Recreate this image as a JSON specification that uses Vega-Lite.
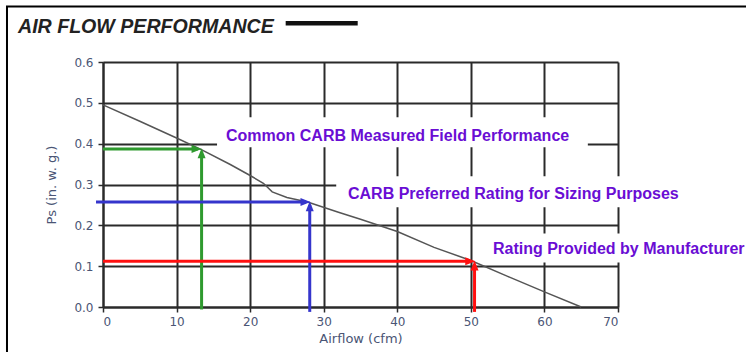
{
  "$schema": "https://vega.github.io/schema/vega-lite/v6.json",
  "width": 515,
  "height": 245,
  "autosize": "none",
  "padding": {"left": 103, "top": 62, "right": 128, "bottom": 45},
  "background": "white",
  "title": {
    "text": "AIR FLOW PERFORMANCE",
    "anchor": "start",
    "frame": "group",
    "font": "Liberation Sans",
    "fontSize": 19.6,
    "fontStyle": "italic",
    "fontWeight": "bold",
    "color": "#222222",
    "dx": -85,
    "offset": 0,
    "dy": 47,
    "baseline": "alphabetic"
  },
  "config": {
    "view": {"stroke": null},
    "axis": {
      "grid": true,
      "gridColor": "#2a2a2a",
      "gridWidth": 2,
      "gridOpacity": 1,
      "domainColor": "#2a2a2a",
      "domainWidth": 2,
      "tickColor": "#2a2a2a",
      "tickSize": 5,
      "tickWidth": 1.5,
      "labelFont": "DejaVu Sans",
      "labelFontSize": 12,
      "labelColor": "#4a5575",
      "labelPadding": 4,
      "titleFont": "DejaVu Sans",
      "titleFontSize": 13,
      "titleFontWeight": "normal",
      "titleColor": "#4a5575"
    }
  },
  "datasets": {
    "curve": [
      {"airflow": 0, "ps": 0.495},
      {"airflow": 5, "ps": 0.455},
      {"airflow": 10, "ps": 0.414},
      {"airflow": 13.3, "ps": 0.386},
      {"airflow": 17.3, "ps": 0.349},
      {"airflow": 20, "ps": 0.322},
      {"airflow": 21.8, "ps": 0.303},
      {"airflow": 23, "ps": 0.282},
      {"airflow": 25, "ps": 0.268},
      {"airflow": 27.8, "ps": 0.257},
      {"airflow": 32, "ps": 0.232},
      {"airflow": 35, "ps": 0.215},
      {"airflow": 40, "ps": 0.185},
      {"airflow": 45, "ps": 0.146},
      {"airflow": 50, "ps": 0.114},
      {"airflow": 55, "ps": 0.075},
      {"airflow": 60, "ps": 0.037},
      {"airflow": 65, "ps": 0}
    ],
    "segs": [
      {"series": "field", "x": 0, "x2": 12.9, "y": 0.387, "y2": 0.387},
      {"series": "field", "x": 13.4, "x2": 13.4, "y": -0.006, "y2": 0.38},
      {"series": "preferred", "x": -0.95, "x2": 27.6, "y": 0.257, "y2": 0.257},
      {"series": "preferred", "x": 28.1, "x2": 28.1, "y": -0.012, "y2": 0.25},
      {"series": "manufacturer", "x": 0, "x2": 50.0, "y": 0.112, "y2": 0.112},
      {"series": "manufacturer", "x": 50.5, "x2": 50.5, "y": -0.012, "y2": 0.105}
    ],
    "heads": [
      {"series": "field", "dir": "right", "x": 13.4, "y": 0.387},
      {"series": "field", "dir": "up", "x": 13.4, "y": 0.389},
      {"series": "preferred", "dir": "right", "x": 28.2, "y": 0.257},
      {"series": "preferred", "dir": "up", "x": 28.1, "y": 0.259},
      {"series": "manufacturer", "dir": "right", "x": 50.6, "y": 0.112},
      {"series": "manufacturer", "dir": "up", "x": 50.5, "y": 0.114}
    ],
    "boxes": [
      {"x": 15.5, "x2": 65.9, "y": 0.391, "y2": 0.4645},
      {"x": 31.7, "x2": 100, "y": 0.244, "y2": 0.32},
      {"x": 51.7, "x2": 100, "y": 0.109, "y2": 0.18}
    ],
    "labels": [
      {"x": 16.72, "y": 0.4056, "text": "Common CARB Measured Field Performance"},
      {"x": 33.3, "y": 0.2635, "text": "CARB Preferred Rating for Sizing Purposes"},
      {"x": 53.0, "y": 0.1287, "text": "Rating Provided by Manufacturer"}
    ],
    "frame": [
      {"x": -13.05, "x2": 100, "y": 0.736, "y2": -0.3}
    ],
    "key": [
      {"x": 24.83, "x2": 34.62, "y": 0.695}
    ]
  },
  "layer": [
    {
      "data": {"name": "frame"},
      "mark": {"type": "rect", "fill": null, "stroke": "#000000", "strokeWidth": 2},
      "encoding": {
        "x": {"field": "x", "type": "quantitative"},
        "x2": {"field": "x2"},
        "y": {"field": "y", "type": "quantitative"},
        "y2": {"field": "y2"}
      }
    },
    {
      "data": {"name": "boxes"},
      "mark": {"type": "rect", "fill": "white", "stroke": null},
      "encoding": {
        "x": {"field": "x", "type": "quantitative"},
        "x2": {"field": "x2"},
        "y": {"field": "y", "type": "quantitative"},
        "y2": {"field": "y2"}
      }
    },
    {
      "data": {"name": "curve"},
      "mark": {"type": "line", "color": "#555555", "strokeWidth": 1.5},
      "encoding": {
        "x": {
          "field": "airflow",
          "type": "quantitative",
          "scale": {"domain": [0, 70], "nice": false, "zero": false},
          "axis": {
            "title": "Airflow (cfm)",
            "values": [0, 5, 10, 15, 20, 25, 30, 35, 40, 45, 50, 55, 60, 65, 70],
            "format": "d",
            "labelExpr": "datum.value % 10 === 0 ? datum.label : ''",
            "titlePadding": 5
          }
        },
        "y": {
          "field": "ps",
          "type": "quantitative",
          "scale": {"domain": [0, 0.6], "nice": false, "zero": false},
          "axis": {
            "title": "Ps (in. w. g.)",
            "values": [0, 0.05, 0.1, 0.15, 0.2, 0.25, 0.3, 0.35, 0.4, 0.45, 0.5, 0.55, 0.6],
            "format": ".1f",
            "labelExpr": "round(datum.value * 100) % 10 === 0 ? datum.label : ''",
            "labelPadding": 5,
            "titlePadding": 15
          }
        }
      }
    },
    {
      "data": {"name": "segs"},
      "mark": {"type": "rule", "strokeWidth": 3, "strokeCap": "butt"},
      "encoding": {
        "x": {"field": "x", "type": "quantitative"},
        "x2": {"field": "x2"},
        "y": {"field": "y", "type": "quantitative"},
        "y2": {"field": "y2"},
        "color": {
          "field": "series",
          "type": "nominal",
          "scale": {"domain": ["field", "preferred", "manufacturer"], "range": ["#2f9a2f", "#3535cc", "#ff1010"]},
          "legend": null
        }
      }
    },
    {
      "data": {"name": "heads"},
      "mark": {"type": "point", "filled": true, "opacity": 1, "size": 100, "strokeWidth": 0},
      "encoding": {
        "x": {"field": "x", "type": "quantitative"},
        "y": {"field": "y", "type": "quantitative"},
        "shape": {
          "field": "dir",
          "type": "nominal",
          "scale": {"domain": ["up", "right"], "range": ["M0,0L-0.8,2L0.8,2Z", "M0,0L-2,-0.8L-2,0.8Z"]},
          "legend": null
        },
        "color": {
          "field": "series",
          "type": "nominal",
          "scale": {"domain": ["field", "preferred", "manufacturer"], "range": ["#2f9a2f", "#3535cc", "#ff1010"]},
          "legend": null
        }
      }
    },
    {
      "data": {"name": "labels"},
      "mark": {"type": "text", "align": "left", "baseline": "alphabetic", "font": "Liberation Sans", "fontSize": 16, "fontWeight": "bold", "color": "#6a0dd4"},
      "encoding": {
        "x": {"field": "x", "type": "quantitative"},
        "y": {"field": "y", "type": "quantitative"},
        "text": {"field": "text"}
      }
    },
    {
      "data": {"name": "key"},
      "mark": {"type": "rule", "color": "#111111", "strokeWidth": 4.5, "strokeCap": "butt"},
      "encoding": {
        "x": {"field": "x", "type": "quantitative"},
        "x2": {"field": "x2"},
        "y": {"field": "y", "type": "quantitative"}
      }
    }
  ]
}
